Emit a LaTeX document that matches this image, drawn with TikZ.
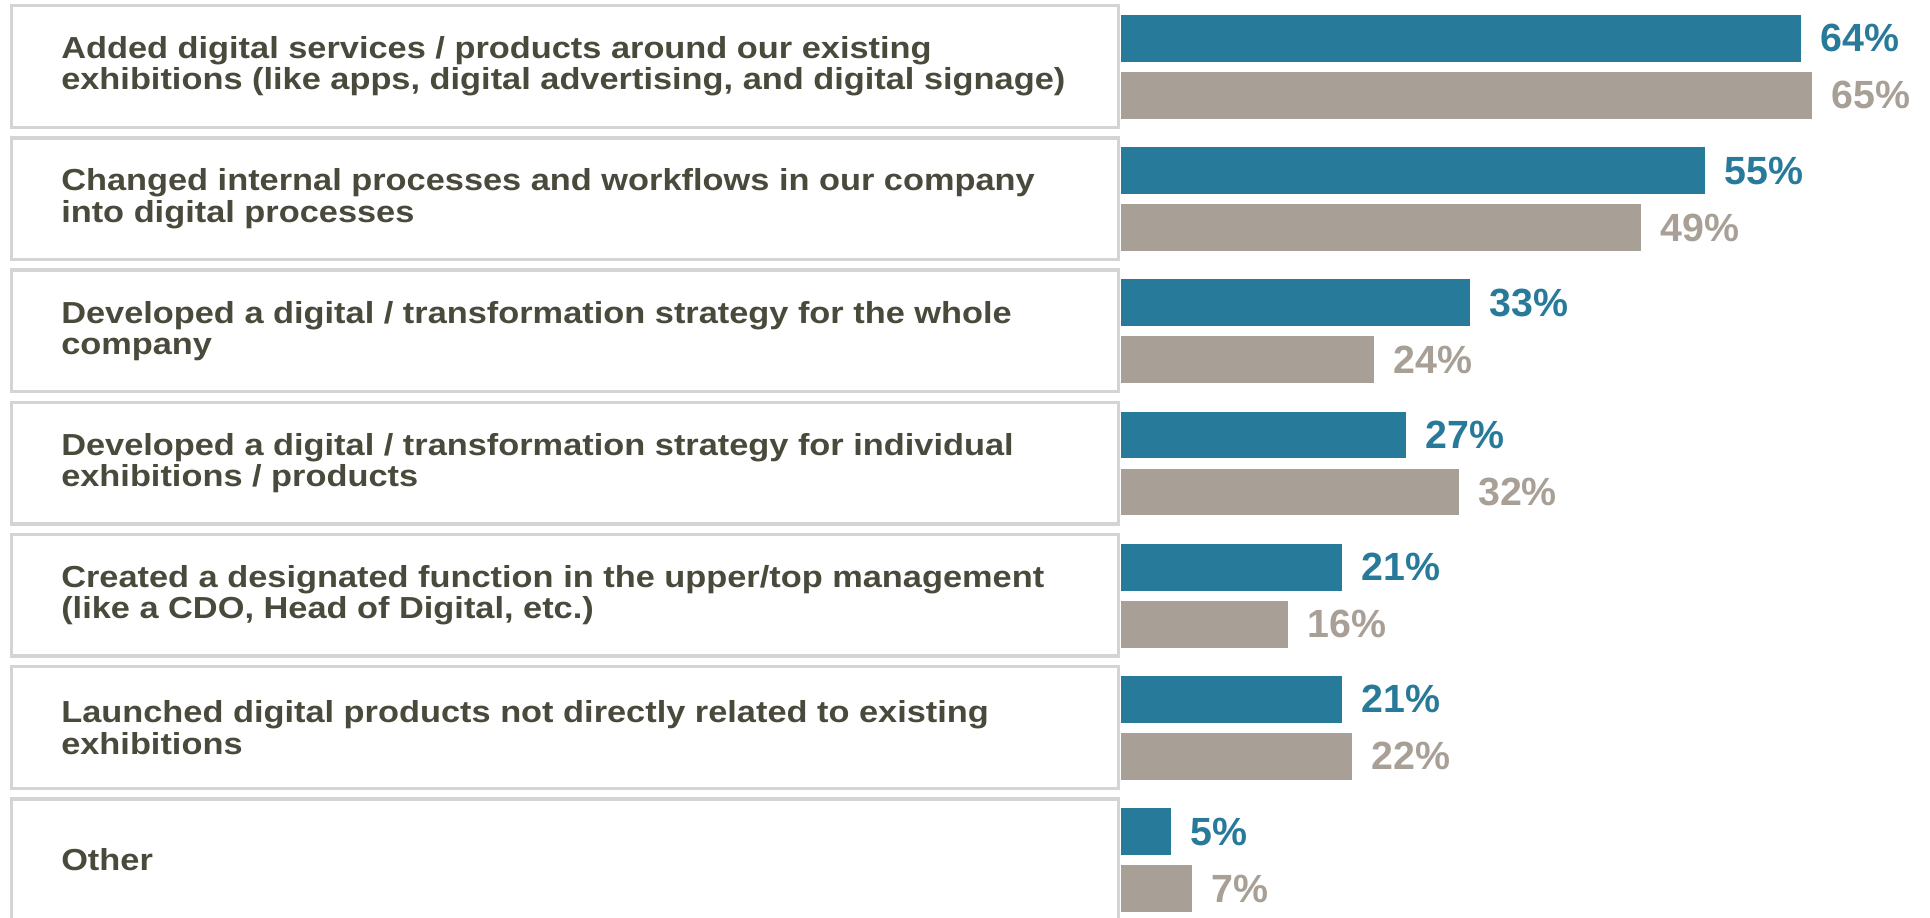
\documentclass[tikz,border=0pt]{standalone}
\usepackage{fontspec}
\setmainfont{Liberation Sans}
\newfontfamily\labelfont[FakeStretch=1.13]{Liberation Sans}
\definecolor{barblue}{HTML}{287A9A}
\definecolor{bargrey}{HTML}{A8A096}
\definecolor{txtcol}{HTML}{4A4A3C}
\definecolor{boxline}{HTML}{D4D4D4}
\newcommand\chartrow[7]{%
  \pgfmathsetmacro\T{132.2*(#1-1)}%
  \draw[rowbox] (11.75,5.75+\T) rectangle (1118.25,127.25+\T);
  \node[rowlabel] (lab#1) at (61,66.5+\T) {#2};
  \fill[barblue] (1121,15+\T) rectangle (#3,61.7+\T);
  \coordinate (be#1) at (#3,38.35+\T);
  \fill[bargrey] (1121,72+\T) rectangle (#4,118.7+\T);
  \coordinate (ge#1) at (#4,95.35+\T);
  \node[pctblue] (pb#1) at ([xshift=14.5pt]be#1) {#5\%};
  \node[pctgrey] (pg#1) at ([xshift=14.5pt]ge#1) {#6\%};
}
\begin{document}
\begin{tikzpicture}[x=0.75pt,y=-0.75pt,
  rowbox/.style={draw=boxline,line width=2.6pt,fill=white},
  rowlabel/.style={anchor=west,inner sep=0pt,align=left,text=txtcol,
    font=\labelfont\fontsize{22.8}{23.5}\selectfont\bfseries},
  pctblue/.style={anchor=west,inner sep=0pt,text=barblue,
    font=\fontsize{29.5}{30}\selectfont\bfseries},
  pctgrey/.style={anchor=west,inner sep=0pt,text=bargrey,
    font=\fontsize{29.5}{30}\selectfont\bfseries}]
\clip (0,0) rectangle (1930,917);
\fill[white] (0,0) rectangle (1930,917);
\chartrow{1}{Added digital services / products around our existing\\exhibitions (like apps, digital advertising, and digital signage)}{1801}{1811.7}{64}{65}{}
\chartrow{2}{Changed internal processes and workflows in our company\\into digital processes}{1705}{1641}{55}{49}{}
\chartrow{3}{Developed a digital / transformation strategy for the whole\\company}{1469.7}{1373.7}{33}{24}{}
\chartrow{4}{Developed a digital / transformation strategy for individual\\exhibitions / products}{1405.7}{1458.6}{27}{32}{}
\chartrow{5}{Created a designated function in the upper/top management\\(like a CDO, Head of Digital, etc.)}{1342}{1288}{21}{16}{}
\chartrow{6}{Launched digital products not directly related to existing\\exhibitions}{1342}{1352}{21}{22}{}
\chartrow{7}{Other}{1171}{1192}{5}{7}{}
\end{tikzpicture}
\end{document}
